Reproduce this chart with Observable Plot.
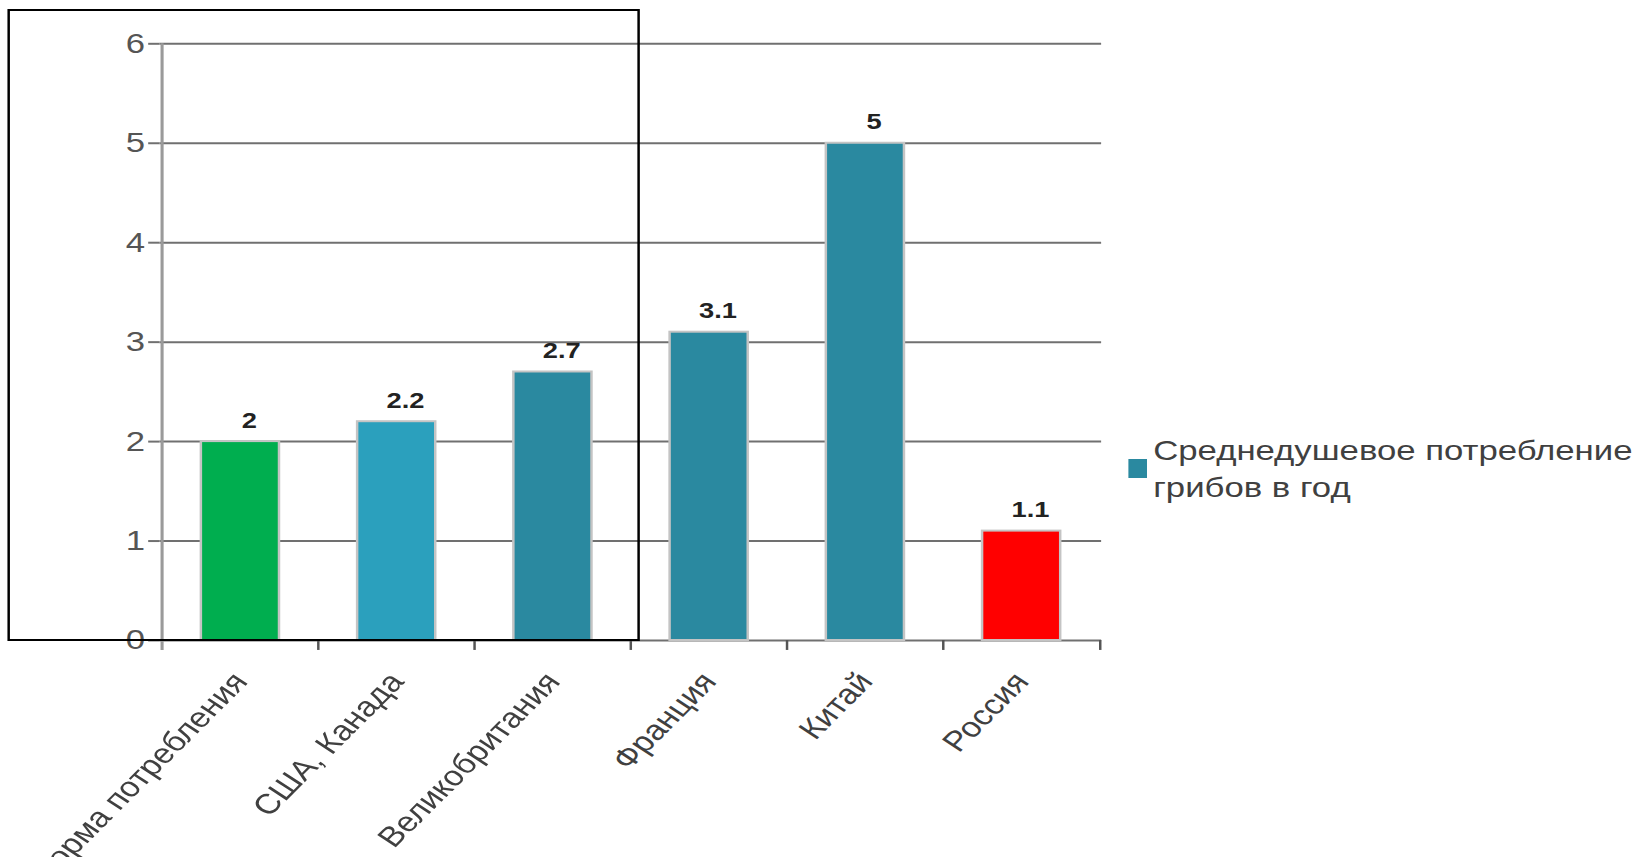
<!DOCTYPE html>
<html>
<head>
<meta charset="utf-8">
<script src="https://cdn.jsdelivr.net/npm/d3@7"></script>
<script src="https://cdn.jsdelivr.net/npm/@observablehq/plot@0.6"></script>
<style>
  html, body { margin: 0; padding: 0; background: #fff; overflow: hidden; }
  #stage {
    position: absolute; left: 0; top: 0;
    width: 1321px; height: 857px;
    transform: scaleX(1.24); transform-origin: 0 0;
    font-family: "Liberation Sans", Arial, sans-serif;
  }
  #chart svg { display: block; }
  #legend { position: absolute; left: 910px; top: 432px; color: #404040; font-size: 28px; line-height: 37px; white-space: nowrap; }
  #legend .swatch { position: absolute; left: 0; top: 27px; width: 15px; height: 19px; }
  #legend .text { position: absolute; left: 20px; top: 0; }
  #box { position: absolute; left: 6px; top: 9px; width: 510px; height: 632px; border: 2px solid #000; box-sizing: border-box; pointer-events: none; }
</style>
</head>
<body>
<div id="stage">
  <div id="chart"></div>
  <div id="legend"><div class="swatch"></div><div class="text"></div></div>
  <div id="box"></div>
</div>
<script>
// ---- data ----
const categories = ["Норма потребления", "США, Канада", "Великобритания", "Франция", "Китай", "Россия"];
const values = [2, 2.2, 2.7, 3.1, 5, 1.1];
const barColors = ["#00ae4f", "#2ba0bd", "#2a89a0", "#2a89a0", "#2a89a0", "#ff0000"];
const yTicks = [0, 1, 2, 3, 4, 5, 6];
const legendLines = ["Среднедушевое потребление", "грибов в год"];
const legendColor = "#2a89a0";

// ---- layout ----
const W = 1321, H = 857;
const mL = 128.5, mR = 433, mT = 43.3, mB = 217;
const n = categories.length;
const step = (W - mL - mR) / n;

const data = categories.map((c, i) => ({cat: c, value: values[i], color: barColors[i]}));

const chart = Plot.plot({
  width: W,
  height: H,
  marginLeft: mL,
  marginRight: mR,
  marginTop: mT,
  marginBottom: mB,
  style: {fontFamily: "'Liberation Sans', Arial, sans-serif", background: "white", overflow: "visible"},
  x: {domain: categories, paddingInner: 0.5, paddingOuter: 0.25, align: 0.5},
  y: {domain: [0, 6]},
  color: {type: "identity"},
  marks: [
    Plot.gridY(yTicks, {stroke: "#707070", strokeOpacity: 1, strokeWidth: 2}),
    Plot.axisY(yTicks, {tickSize: 9, tickPadding: 3, fontSize: 28, stroke: "#707070", strokeWidth: 2, fill: "#555", label: null, tickFormat: d => String(d)}),
    Plot.ruleX([categories[0]], {x: d => d, dx: -step / 2, y1: -0.1, y2: 6, stroke: "#9a9a9a", strokeWidth: 2.5}),
    Plot.ruleX(categories.slice(1), {x: d => d, dx: -step / 2, y1: 0, y2: -0.1, stroke: "#555", strokeWidth: 2}),
    Plot.ruleX([categories[n - 1]], {x: d => d, dx: step / 2, y1: 0, y2: -0.1, stroke: "#555", strokeWidth: 2}),
    Plot.barY(data, {x: "cat", y: "value", fill: "color", stroke: "#c4c4c4", strokeWidth: 2}),
    Plot.text(data, {x: "cat", y: "value", text: d => String(d.value), dy: -21, dx: 7, fontSize: 22, fontWeight: "bold", fill: "#222"}),
    Plot.axisX({tickSize: 0, tickRotate: -51, tickPadding: 36, fontSize: 28, fill: "#404040", label: null})
  ]
});
document.getElementById("chart").appendChild(chart);

document.querySelector("#legend .swatch").style.background = legendColor;
document.querySelector("#legend .text").innerHTML = legendLines.join("<br>");
</script>
</body>
</html>
